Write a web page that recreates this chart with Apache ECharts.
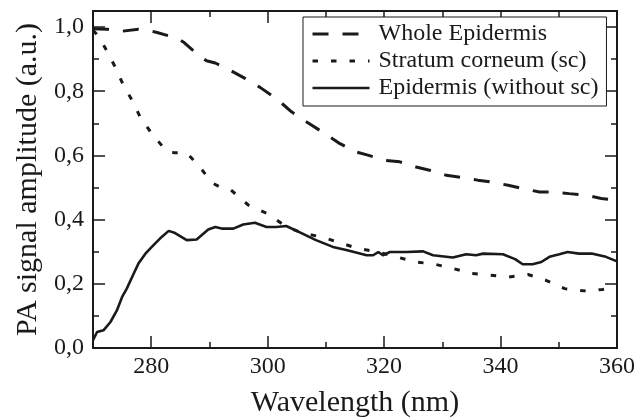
<!DOCTYPE html>
<html>
<head>
<meta charset="utf-8">
<script src="https://cdn.jsdelivr.net/npm/echarts@6/dist/echarts.min.js"></script>
<style>
html,body{margin:0;padding:0;background:#fff;}
#chart{width:634px;height:419px;}
</style>
</head>
<body>
<div id="chart"></div>
<script>
// ---- data ----
var seriesNames = ['Whole Epidermis', 'Stratum corneum (sc)', 'Epidermis (without sc)'];

var wlWhole  = [270, 272.4, 275, 277.8, 279.5, 281, 283.1, 284.5, 285.7, 288.1, 289.5, 291, 293.5, 296.1, 298.7, 301.5, 304.1, 306.7, 309.4, 312.1, 315, 317.2, 320.1, 322.7, 325.5, 327.8, 330.7, 333.3, 336.1, 338.4, 341.3, 343.8, 346.7, 349.3, 351.8, 354.7, 357.3, 360];
var valWhole = [0.995, 0.993, 0.987, 0.993, 0.99, 0.983, 0.972, 0.965, 0.951, 0.912, 0.895, 0.888, 0.866, 0.840, 0.812, 0.777, 0.736, 0.704, 0.673, 0.640, 0.612, 0.601, 0.585, 0.580, 0.564, 0.554, 0.538, 0.531, 0.523, 0.517, 0.507, 0.497, 0.486, 0.486, 0.481, 0.476, 0.466, 0.46];

var wlSc  = [270, 271, 272.3, 273.8, 275.1, 276.7, 278.1, 280.1, 282.6, 284, 285.7, 286.5, 288.2, 290.5, 292, 293.7, 296.7, 299.9, 303.3, 306.1, 309.3, 312.4, 315.5, 319, 322.1, 325.5, 328.7, 331.8, 335, 338.1, 341.3, 344.7, 347.8, 351, 354.4, 357.5, 360];
var valSc = [0.99, 0.97, 0.928, 0.876, 0.824, 0.772, 0.720, 0.668, 0.614, 0.608, 0.609, 0.60, 0.567, 0.514, 0.50, 0.492, 0.445, 0.419, 0.377, 0.357, 0.346, 0.328, 0.310, 0.299, 0.284, 0.268, 0.261, 0.248, 0.232, 0.227, 0.221, 0.229, 0.211, 0.185, 0.178, 0.182, 0.19];

var wlEpi  = [270, 270.7, 271.8, 273, 274.1, 275, 275.8, 277, 277.8, 279, 280.1, 281.5, 283, 284.1, 286.1, 287.8, 289.8, 291, 292.1, 294.1, 295.8, 297.8, 299.8, 301.5, 303.2, 305.8, 308.3, 311.2, 313.5, 315.5, 317, 318.1, 319, 319.8, 321, 323.8, 326.7, 328.4, 331.8, 334.1, 335.8, 337, 340.4, 342.5, 343.8, 345.5, 347, 348.4, 350.1, 351.5, 353.5, 355.8, 358.1, 360];
var valEpi = [0.024, 0.050, 0.055, 0.081, 0.117, 0.159, 0.185, 0.232, 0.263, 0.294, 0.315, 0.341, 0.365, 0.358, 0.336, 0.338, 0.369, 0.377, 0.372, 0.372, 0.385, 0.390, 0.377, 0.377, 0.380, 0.358, 0.336, 0.315, 0.305, 0.296, 0.289, 0.289, 0.299, 0.289, 0.299, 0.299, 0.301, 0.289, 0.282, 0.292, 0.289, 0.294, 0.292, 0.277, 0.261, 0.261, 0.268, 0.284, 0.292, 0.299, 0.294, 0.294, 0.284, 0.270];

var xMajor = [280, 300, 320, 340, 360];
var xMinor = [270, 290, 310, 330, 350];
var yMajor = [0, 0.2, 0.4, 0.6, 0.8, 1.0];
var yMinor = [0.1, 0.3, 0.5, 0.7, 0.9];
var xMin = 270, xMax = 360, yMin = 0, yMax = 1.05;

function pairs(xs, ys) { return xs.map(function (x, i) { return [x, ys[i]]; }); }

var FONT = '"Liberation Serif", "Times New Roman", Times, serif';
var INK = '#1a1a1a';
var styles = [
  { color: INK, width: 3, type: [16, 14] },
  { color: INK, width: 3, type: [5.5, 13] },
  { color: INK, width: 2.6, type: 'solid' }
];

function xAxisDef(pos, ticks, len, showLine, showLabel) {
  return {
    type: 'value', position: pos, min: xMin, max: xMax,
    axisLine: { show: showLine, onZero: false, lineStyle: { color: INK, width: 2 } },
    axisTick: { show: true, inside: true, length: len, customValues: ticks, lineStyle: { color: INK, width: 1.5 } },
    axisLabel: { show: showLabel, customValues: ticks, margin: 7, fontFamily: FONT, fontSize: 24, color: INK },
    splitLine: { show: false }
  };
}
function yAxisDef(pos, ticks, len, showLine, showLabel) {
  return {
    type: 'value', position: pos, min: yMin, max: yMax,
    axisLine: { show: showLine, onZero: false, lineStyle: { color: INK, width: 2 } },
    axisTick: { show: true, inside: true, length: len, customValues: ticks, lineStyle: { color: INK, width: 1.5 } },
    axisLabel: { show: showLabel, customValues: ticks, margin: 9, fontFamily: FONT, fontSize: 24, color: INK,
      formatter: function (v) { return v.toFixed(1).replace('.', ','); } },
    splitLine: { show: false }
  };
}

var xMain = xAxisDef('bottom', xMajor, 12, true, true);
xMain.name = 'Wavelength (nm)';
xMain.nameLocation = 'middle';
xMain.nameGap = 40;
xMain.nameTextStyle = { fontFamily: FONT, fontSize: 30, color: INK };

var yMain = yAxisDef('left', yMajor, 12, true, true);
yMain.name = 'PA signal amplitude (a.u.)';
yMain.nameLocation = 'middle';
yMain.nameGap = 47;
yMain.nameTextStyle = { fontFamily: FONT, fontSize: 30, color: INK };

var chart = echarts.init(document.getElementById('chart'), null, { renderer: 'canvas' });
chart.setOption({
  backgroundColor: '#fff',
  animation: false,
  grid: { left: 93, right: 17, top: 11, height: 337, containLabel: false, outerBoundsMode: 'none' },
  legend: {
    orient: 'vertical', left: 303, top: 17,
    padding: [5, 8, 6, 8], itemGap: 3, itemWidth: 57, itemHeight: 14,
    borderColor: INK, borderWidth: 1, backgroundColor: '#fff',
    itemStyle: { color: 'rgba(0,0,0,0)', borderColor: 'rgba(0,0,0,0)', borderWidth: 0, opacity: 0 },
    textStyle: { fontFamily: FONT, fontSize: 24, color: INK, padding: [0, 0, 0, 4] },
    data: seriesNames.map(function (n, i) { return { name: n, lineStyle: styles[i] }; })
  },
  xAxis: [
    xMain,
    xAxisDef('bottom', xMinor, 6, false, false),
    xAxisDef('top', xMajor, 12, true, false),
    xAxisDef('top', xMinor, 6, false, false)
  ],
  yAxis: [
    yMain,
    yAxisDef('left', yMinor, 6, false, false),
    yAxisDef('right', yMajor, 12, true, false),
    yAxisDef('right', yMinor, 6, false, false)
  ],
  series: [
    { name: seriesNames[0], type: 'line', data: pairs(wlWhole, valWhole), showSymbol: false, symbol: 'none',
      lineStyle: styles[0], itemStyle: { color: INK }, z: 3 },
    { name: seriesNames[1], type: 'line', data: pairs(wlSc, valSc), showSymbol: false, symbol: 'none',
      lineStyle: styles[1], itemStyle: { color: INK }, z: 3 },
    { name: seriesNames[2], type: 'line', data: pairs(wlEpi, valEpi), showSymbol: false, symbol: 'none',
      lineStyle: styles[2], itemStyle: { color: INK }, z: 3 }
  ]
});
</script>
</body>
</html>
